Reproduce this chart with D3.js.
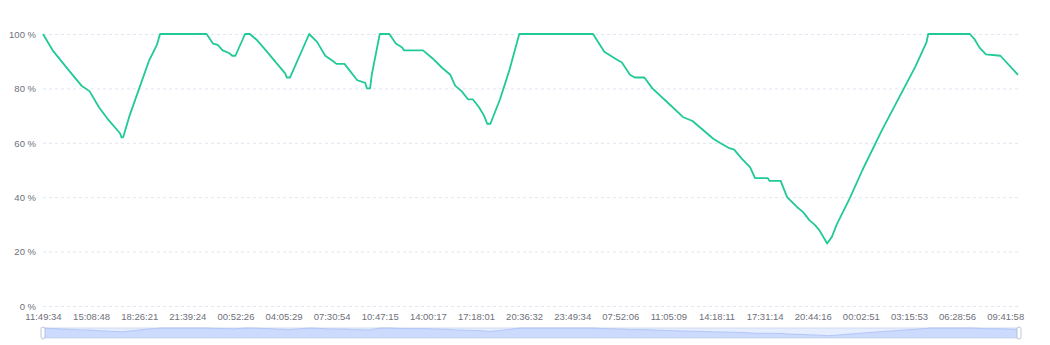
<!DOCTYPE html>
<html>
<head>
<meta charset="utf-8">
<script src="https://cdn.jsdelivr.net/npm/d3@7/dist/d3.min.js"></script>
<style>
  html, body { margin:0; padding:0; background:#fff; }
  .chart text { font-family:"Liberation Sans", Arial, sans-serif; font-size:9.5px; fill:#6e7079; }
</style>
</head>
<body>
<div class="chart"></div>
<script>
// x axis labels, one every 30 samples
var times = ["11:49:34","15:08:48","18:26:21","21:39:24","00:52:26","04:05:29","07:30:54",
             "10:47:15","14:00:17","17:18:01","20:36:32","23:49:34","07:52:06","11:05:09",
             "14:18:11","17:31:14","20:44:16","00:02:51","03:15:53","06:28:56","09:41:58"];
var labelEvery = 30;
var sampleCount = 609;

// battery level (%) at sample index
var sampleIdx = [0,6,17,24,29,35,40,48,49,50,54,60,66,71,73,102,106,109,112,116,118,120,126,129,
  133,139,146,151,152,154,166,171,176,181,183,188,192,196,201,202,204,205,210,216,220,224,225,
  237,243,249,254,257,261,265,268,272,275,277,279,285,291,297,343,350,358,361,366,369,375,380,
  391,399,405,418,422,428,431,436,441,444,452,453,460,464,470,474,478,481,484,489,492,495,503,
  511,523,544,551,552,578,581,584,588,597,608];
var batteryPct = [100,94,86,81,79,73,69,63.5,62,62,70,80,90,96,100,100,96.5,96,94,93,92,92,100,100,
  98,94,89,85.5,84,84,100,97,92,90,89,89,86,83,82,80,80,85,100,100,96.5,95,94,
  94,91,87.5,85,81,79,76,76,73,70,67,67,76,87,100,100,93.5,90.5,89.5,85,84,84,80,
  74,69.5,68,61.5,60,58,57.5,54,51,47,47,46,46,40,36.5,34.5,31.5,30,28,23,25.5,30,39.5,
  50,64.5,88,97,100,100,98,95,92.5,92,85];

var yTicks = [0,20,40,60,80,100];

(function(){
  var W = 1050, H = 345;
  var left = 43, right = 1018, top = 34, bottom = 306;

  var svg = d3.select(".chart").append("svg")
              .attr("width",W).attr("height",H);

  var points = sampleIdx.map(function(d,i){ return {i:d, v:batteryPct[i]}; });

  var x = d3.scaleLinear().domain([0,sampleCount-1]).range([left,right]);
  var y = d3.scaleLinear().domain([0,100]).range([bottom,top]);

  // grid + y labels
  var yAxis = d3.axisLeft(y).tickValues(yTicks).tickSize(-(right-left)).tickPadding(7)
                .tickFormat(function(d){ return d+" %"; });
  var gy = svg.append("g").attr("transform","translate("+left+",0)").call(yAxis);
  gy.select(".domain").remove();
  gy.selectAll(".tick line").attr("stroke","#e0e6f1").attr("stroke-dasharray","3,3");
  gy.selectAll(".tick text").attr("x",-7).attr("dy","0.34em");

  // x labels
  var xAxis = d3.axisBottom(x)
                .tickValues(times.map(function(t,i){ return i*labelEvery; }))
                .tickSize(0).tickPadding(7)
                .tickFormat(function(d){ return times[d/labelEvery]; });
  var gx = svg.append("g").attr("transform","translate(0,"+bottom+")").call(xAxis);
  gx.select(".domain").remove();

  // battery line
  var line = d3.line().x(function(d){ return x(d.i); }).y(function(d){ return y(d.v); });
  svg.append("path").datum(points)
     .attr("d",line)
     .attr("fill","none")
     .attr("stroke","#20c997")
     .attr("stroke-width",1.8)
     .attr("stroke-linejoin","round");

  // data zoom slider
  var sTop = 328, sBot = 338, sRight = 1019;
  var sx = d3.scaleLinear().domain([0,sampleCount-1]).range([left,sRight]);
  var sy = d3.scaleLinear().domain([0,100]).range([sBot,sTop]);
  var slider = svg.append("g");
  slider.append("rect").attr("x",left).attr("y",sTop).attr("width",sRight-left).attr("height",sBot-sTop)
        .attr("fill","rgba(135,175,255,0.22)").attr("stroke","#d2dbee");
  var area = d3.area().x(function(d){ return sx(d.i); }).y0(sBot).y1(function(d){ return sy(d.v); });
  slider.append("path").datum(points).attr("d",area).attr("fill","rgba(143,176,247,0.3)");
  slider.append("path").datum(points)
        .attr("d",d3.line().x(function(d){ return sx(d.i); }).y(function(d){ return sy(d.v); }))
        .attr("fill","none").attr("stroke","#a9c0f5").attr("stroke-width",0.8);
  [left,sRight].forEach(function(hx){
    slider.append("rect").attr("x",hx-2).attr("y",sTop-1).attr("width",4).attr("height",sBot-sTop+2)
          .attr("rx",2).attr("fill","#fff").attr("stroke","#acb8d1").attr("stroke-width",0.8);
  });
})();
</script>
</body>
</html>
